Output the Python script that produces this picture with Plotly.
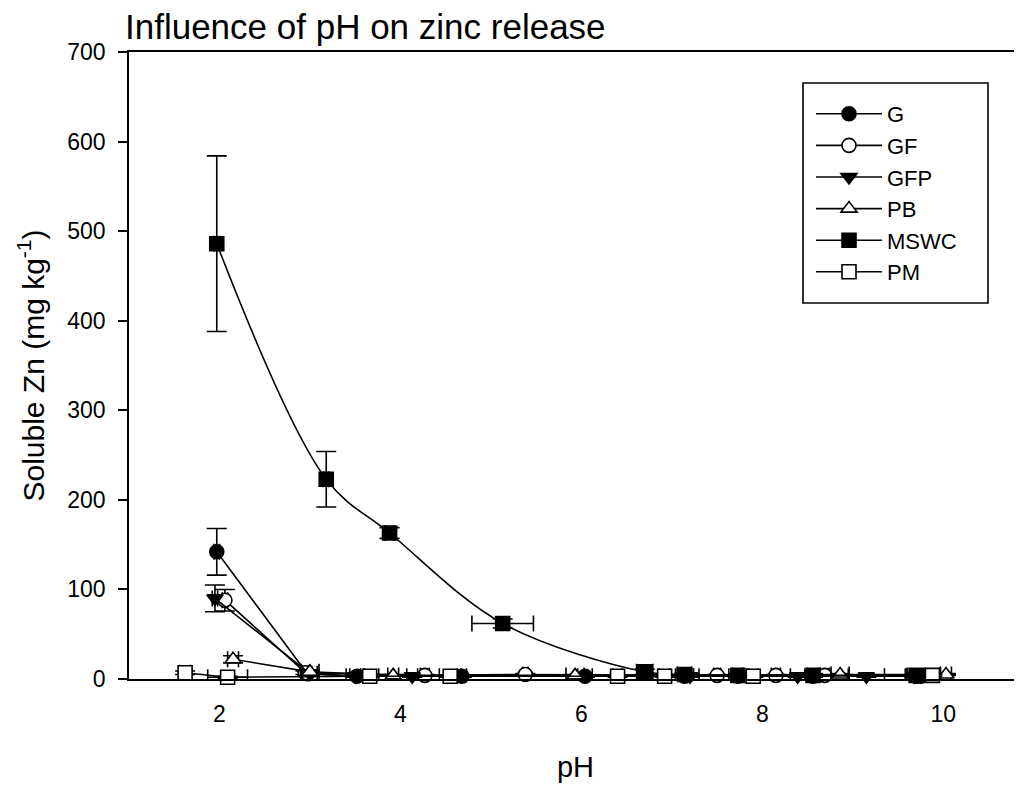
import plotly.graph_objects as go

# ---- data ----
g_ph = [1.97, 2.97, 3.52, 4.68, 6.04, 7.14, 7.73, 8.56, 9.70]
g_zn = [142, 6, 3, 3, 3, 3, 3, 3, 3]
g_yerr = [26, 2, 1, 1, 1, 1, 1, 1, 1]
g_xerr = [0.03, 0.05, 0.08, 0.05, 0.08, 0.10, 0.10, 0.05, 0.10]

gf_ph = [2.06, 2.95, 4.27, 5.38, 7.50, 8.15, 8.69, 9.75]
gf_zn = [88, 7, 4, 5, 4, 4, 4, 3]
gf_yerr = [12, 2, 1, 1, 1, 1, 1, 1]
gf_xerr = [0.03, 0.04, 0.05, 0.03, 0.04, 0.05, 0.05, 0.08]

gfp_ph = [1.95, 3.00, 3.50, 4.13, 7.20, 8.39, 9.15, 9.68]
gfp_zn = [90, 6, 3, 3, 3, 3, 3, 3]
gfp_yerr = [15, 2, 1, 1, 1, 1, 1, 1]
gfp_xerr = [0.03, 0.08, 0.10, 0.06, 0.10, 0.08, 0.20, 0.10]

pb_ph = [2.15, 3.00, 3.92, 5.93, 8.86, 10.03]
pb_zn = [22, 8, 4, 4, 5, 5]
pb_yerr = [4, 2, 1, 1, 1, 1]
pb_xerr = [0.06, 0.10, 0.06, 0.10, 0.10, 0.06]

mswc_ph = [1.97, 3.18, 3.88, 5.13, 6.70, 7.14, 7.73, 8.56, 9.70]
mswc_zn = [486, 223, 163, 62, 8, 5, 4, 4, 4]
mswc_yerr = [98, 31, 6, 5, 3, 2, 2, 2, 2]
mswc_xerr = [0.03, 0.03, 0.05, 0.34, 0.09, 0.08, 0.06, 0.06, 0.10]

pm_ph = [1.62, 2.09, 3.66, 4.55, 6.40, 6.92, 7.90, 9.88]
pm_zn = [7, 2, 3, 3, 3, 3, 3, 4]
pm_yerr = [2, 1, 1, 1, 1, 1, 1, 1]
pm_xerr = [0.06, 0.22, 0.10, 0.12, 0.05, 0.06, 0.05, 0.08]

series = [
    ("G", g_ph, g_zn, g_yerr, g_xerr, "circle", "black"),
    ("GF", gf_ph, gf_zn, gf_yerr, gf_xerr, "circle", "white"),
    ("GFP", gfp_ph, gfp_zn, gfp_yerr, gfp_xerr, "triangle-down", "black"),
    ("PB", pb_ph, pb_zn, pb_yerr, pb_xerr, "triangle-up", "white"),
    ("MSWC", mswc_ph, mswc_zn, mswc_yerr, mswc_xerr, "square", "black"),
    ("PM", pm_ph, pm_zn, pm_yerr, pm_xerr, "square", "white"),
]

FONT = "Liberation Sans, Arial, Helvetica, sans-serif"

fig = go.Figure()
for name, xs, ys, ye, xe, sym, fill in series:
    fig.add_trace(go.Scatter(
        x=xs, y=ys, name=name, mode="lines+markers",
        line=dict(color="black", width=1.6,
                  shape="spline" if name == "MSWC" else "linear"),
        marker=dict(symbol=sym, size=14, color=fill,
                    line=dict(color="black", width=1.6)),
        error_y=dict(type="data", array=ye, visible=True,
                     color="black", thickness=1.6, width=10),
        error_x=dict(type="data", array=xe, visible=True,
                     color="black", thickness=1.6, width=8),
        cliponaxis=False,
    ))

# plot area in page pixels: x 129..1022, y 52..679 (893 x 627)
PW, PH = 893, 627


def px_x(p):
    return (p - 129) / PW


def px_y(p):
    return (679 - p) / PH


# legend frame (drawn as a box so its size matches the reference)
fig.add_shape(type="rect", xref="paper", yref="paper",
              x0=px_x(803), x1=px_x(988), y0=px_y(303), y1=px_y(83),
              line=dict(color="black", width=1.6), fillcolor="rgba(0,0,0,0)",
              layer="above")

# page body has an 8px margin, so the figure is 8px smaller than the window
fig.update_layout(
    width=1014, height=778,
    margin=dict(l=121, r=0, t=44, b=107),
    paper_bgcolor="white", plot_bgcolor="white",
    font=dict(family=FONT, color="black", size=23),
    title=dict(text="Influence of pH on zinc release",
               x=117 / 1014, xref="container", xanchor="left",
               y=1 - 6 / 778, yref="container", yanchor="top",
               font=dict(size=35, family=FONT, color="black")),
    showlegend=True,
    legend=dict(x=px_x(811), y=px_y(93),
                xanchor="left", yanchor="top",
                borderwidth=0, bgcolor="rgba(0,0,0,0)",
                font=dict(size=22, family=FONT, color="black"),
                itemwidth=66, tracegroupgap=0),
)

fig.update_xaxes(
    range=[1, 10.87], showgrid=False, zeroline=False,
    showline=True, linecolor="black", linewidth=1.6, mirror=True,
    ticks="", tickvals=[2, 4, 6, 8, 10],
    tickfont=dict(size=23, family=FONT, color="black"),
    ticklabelstandoff=14,
    title=dict(text="pH", font=dict(size=29, family=FONT, color="black"),
               standoff=30),
)
fig.update_yaxes(
    range=[0, 700], showgrid=False, zeroline=False,
    showline=True, linecolor="black", linewidth=1.6,
    ticks="outside", ticklen=9, tickwidth=1.6, tickcolor="black",
    tickvals=[0, 100, 200, 300, 400, 500, 600, 700],
    tickfont=dict(size=23, family=FONT, color="black"),
    ticklabelstandoff=8,
    title=dict(text="Soluble Zn (mg kg<sup>-1</sup>)",
               font=dict(size=30, family=FONT, color="black"),
               standoff=14),
)

fig.write_html("out.html")
